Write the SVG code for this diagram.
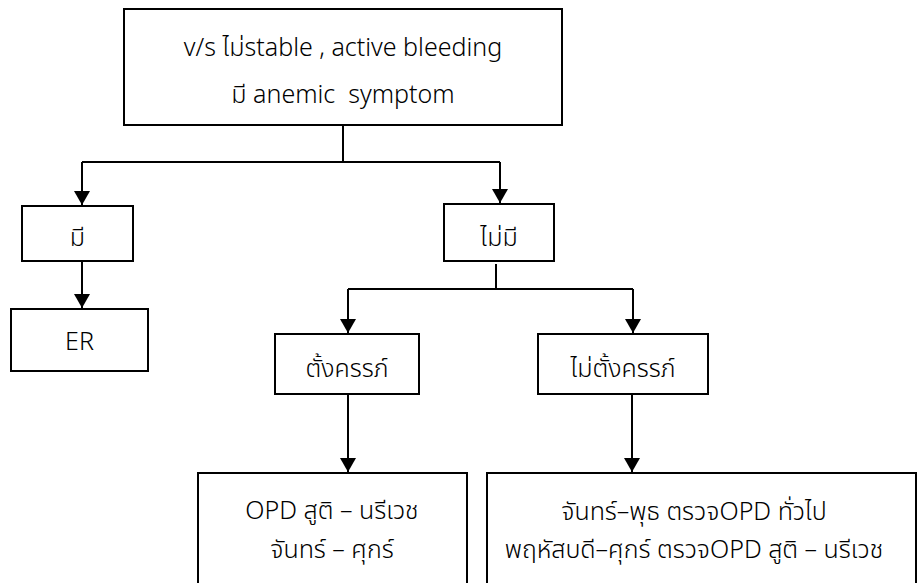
<svg xmlns="http://www.w3.org/2000/svg" width="917" height="583" viewBox="0 0 917 583">
<style>
.box{fill:#fff;stroke:#000;stroke-width:2}
.ln{fill:none;stroke:#000;stroke-width:2}
.t{font-family:"Noto Sans Thai","Noto Sans",Lato,sans-serif;font-size:25px;fill:#000;text-anchor:middle;font-weight:300}
</style>
<defs>
<marker id="ah" viewBox="0 0 14 16" refX="14" refY="8" markerWidth="14" markerHeight="16" markerUnits="userSpaceOnUse" orient="auto">
<path d="M0,0 L14,8 L0,16 Z" fill="#000"/>
</marker>
</defs>
<g id="connectors">
<path class="ln" d="M343,125 V162"/>
<path class="ln" d="M82,162 H500"/>
<path class="ln" d="M82,162 V205" marker-end="url(#ah)"/>
<path class="ln" d="M500,162 V203" marker-end="url(#ah)"/>
<path class="ln" d="M82,261 V308" marker-end="url(#ah)"/>
<path class="ln" d="M496,264 V289"/>
<path class="ln" d="M348,289 H633"/>
<path class="ln" d="M348,289 V333" marker-end="url(#ah)"/>
<path class="ln" d="M633,289 V333" marker-end="url(#ah)"/>
<path class="ln" d="M348,394 V472" marker-end="url(#ah)"/>
<path class="ln" d="M632,394 V472" marker-end="url(#ah)"/>
</g>
<g id="n-top">
<rect class="box" x="124" y="9" width="438" height="116"/>
<text class="t" x="343" y="56">v/s ไม่stable , active bleeding</text>
<text class="t" x="343" y="103" xml:space="preserve">มี anemic  symptom</text>
</g>
<g id="n-yes">
<rect class="box" x="22" y="206" width="111" height="55"/>
<text class="t" x="77.5" y="246">มี</text>
</g>
<g id="n-er">
<rect class="box" x="11" y="309" width="137" height="62"/>
<text class="t" x="79.5" y="350">ER</text>
</g>
<g id="n-no">
<rect class="box" x="444" y="204" width="110" height="57"/>
<text class="t" x="499" y="246">ไม่มี</text>
</g>
<g id="n-preg">
<rect class="box" x="275" y="334" width="144" height="60"/>
<text class="t" x="347" y="377">ตั้งครรภ์</text>
</g>
<g id="n-notpreg">
<rect class="box" x="538" y="334" width="170" height="60"/>
<text class="t" x="623" y="377">ไม่ตั้งครรภ์</text>
</g>
<g id="n-opd1">
<rect class="box" x="198" y="473" width="269" height="120"/>
<text class="t" x="332" y="519">OPD สูติ – นรีเวช</text>
<text class="t" x="332" y="558">จันทร์ – ศุกร์</text>
</g>
<g id="n-opd2">
<rect class="box" x="487" y="473" width="429" height="120"/>
<text class="t" x="694" y="520">จันทร์–พุธ ตรวจOPD ทั่วไป</text>
<text class="t" x="694" y="558">พฤหัสบดี–ศุกร์ ตรวจOPD สูติ – นรีเวช</text>
</g>
</svg>
